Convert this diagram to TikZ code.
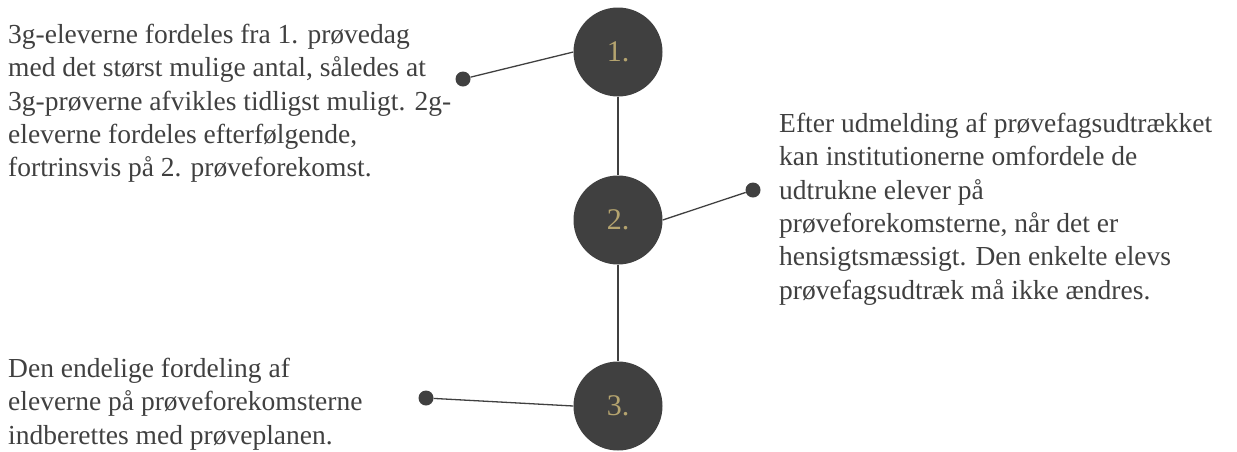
\documentclass[tikz,border=0pt]{standalone}
\usepackage{fontspec}
\setmainfont{Liberation Serif}
\usepackage{tikz}
\definecolor{darkgrey}{HTML}{404040}
\definecolor{sand}{HTML}{B5A46F}

\begin{document}
\begin{tikzpicture}[x=1pt, y=-1pt,
    stepnum/.style={circle, fill=darkgrey, minimum size=89pt, inner sep=0pt,
      text=sand, font=\fontsize{30}{34}\selectfont},
    pin/.style={circle, fill=darkgrey, minimum size=15pt, inner sep=0pt},
    link/.style={darkgrey, line width=1.3pt},
    note/.style={anchor=north west, inner sep=0pt, align=left, text=darkgrey,
      font=\fontsize{27.5}{33.3}\selectfont}]
    \useasboundingbox (0,0) rectangle (1237,451);

    % the three steps
    \node[stepnum] (s1) at (618,52) {1.};
    \node[stepnum] (s2) at (618,220) {2.};
    \node[stepnum] (s3) at (618,406) {3.};
    \draw[link] (s1) -- (s2);
    \draw[link] (s2) -- (s3);

    % pins
    \node[pin] (p1) at (463,79) {};
    \node[pin] (p2) at (753,190) {};
    \node[pin] (p3) at (426,398) {};
    \draw[link] (p1) -- (s1.west);
    \draw[link] (p2) -- (s2.east);
    \draw[link] (p3) -- (s3.west);

    % texts
    \node[note] (t1) at (8,24) {3g-eleverne fordeles fra 1. prøvedag\\
      med det størst mulige antal, således at\\
      3g-prøverne afvikles tidligst muligt. 2g-\\
      eleverne fordeles efterfølgende,\\
      fortrinsvis på 2. prøveforekomst.};
    \node[note] (t2) at (779,113) {Efter udmelding af prøvefagsudtrækket\\
      kan institutionerne omfordele de\\
      udtrukne elever på\\
      prøveforekomsterne, når det er\\
      hensigtsmæssigt. Den enkelte elevs\\
      prøvefagsudtræk må ikke ændres.};
    \node[note] (t3) at (8,358) {Den endelige fordeling af\\
      eleverne på prøveforekomsterne\\
      indberettes med prøveplanen.};
  \end{tikzpicture}
\end{document}
